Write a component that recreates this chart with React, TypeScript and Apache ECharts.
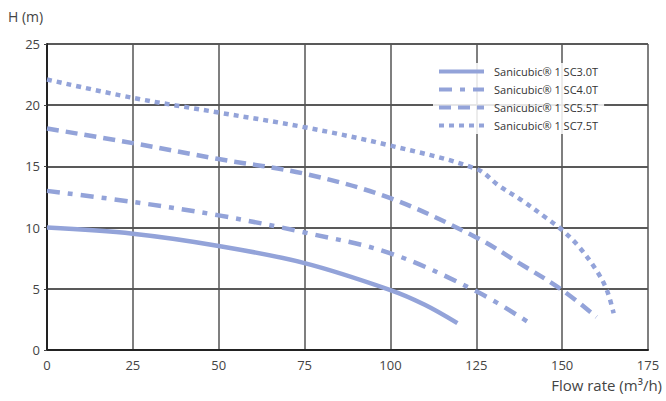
import React, { useEffect, useRef } from "react";
import * as echarts from "echarts";

const xTicks = [0, 25, 50, 75, 100, 125, 150, 175];
const yTicks = [0, 5, 10, 15, 20, 25];

const seriesNames = [
  "Sanicubic® 1 SC3.0T",
  "Sanicubic® 1 SC4.0T",
  "Sanicubic® 1 SC5.5T",
  "Sanicubic® 1 SC7.5T",
];

const sc30Flow = [0, 25, 50, 75, 100, 110, 119.5];
const sc30Head = [10, 9.5, 8.5, 7.1, 4.9, 3.7, 2.2];

const sc40Flow = [0, 25, 50, 75, 100, 125, 140];
const sc40Head = [13, 12.1, 11, 9.6, 7.9, 4.8, 2.3];

const sc55Flow = [0, 25, 50, 75, 100, 125, 137.5, 150, 160];
const sc55Head = [18.1, 16.9, 15.6, 14.4, 12.4, 9.2, 7.1, 4.9, 2.7];

const sc75Flow = [0, 25, 50, 75, 100, 125, 131.7, 138.4, 145.3, 150, 155, 160, 163, 165];
const sc75Head = [22.1, 20.6, 19.4, 18.2, 16.7, 14.8, 13.4, 12.2, 10.8, 9.8, 8.4, 6.5, 4.9, 3.0];

const pair = (xs: number[], ys: number[]) => xs.map((x, i) => [x, ys[i]]);

export default function App() {
  const ref = useRef<HTMLDivElement>(null);
  useEffect(() => {
    if (!ref.current) return;
    const chart = echarts.init(ref.current, null, { renderer: "svg" });
    const color = "#93a3d9";
    const font = "Open Sans";
    const mk = (name: string, data: number[][], type: any) => ({
      name,
      type: "line",
      data,
      smooth: 0.35,
      showSymbol: false,
      symbol: "none",
      lineStyle: { color, width: 4.5, type, cap: "butt" },
      itemStyle: { color },
    });
    chart.setOption({
      animation: false,
      backgroundColor: "#ffffff",
      textStyle: { fontFamily: font },
      grid: { left: 47, right: 18, top: 44, bottom: 51, containLabel: false },
      legend: {
        orient: "vertical",
        left: 433,
        top: 63,
        padding: [3, 6, 3, 4],
        itemGap: 7,
        itemWidth: 45,
        itemHeight: 10,
        backgroundColor: "rgba(255,255,255,0.85)",
        itemStyle: { opacity: 0 },
        lineStyle: { width: 4 },
        textStyle: { color: "#333", fontSize: 11, fontFamily: font, padding: [0, 0, 0, 5] },
        data: seriesNames,
      },
      xAxis: {
        type: "value",
        min: xTicks[0],
        max: xTicks[xTicks.length - 1],
        interval: 25,
        axisLine: { show: true, lineStyle: { color: "#222", width: 2 } },
        axisTick: { show: false },
        axisLabel: {
          color: "#444",
          fontSize: 13,
          margin: 8,
          customValues: xTicks,
        },
        splitLine: { show: true, lineStyle: { color: "#555", width: 1.5 } },
      },
      yAxis: {
        type: "value",
        min: yTicks[0],
        max: yTicks[yTicks.length - 1],
        interval: 5,
        axisLine: { show: true, lineStyle: { color: "#222", width: 2 } },
        axisTick: { show: true, length: 3, lineStyle: { color: "#444" } },
        axisLabel: { color: "#444", fontSize: 13, margin: 7 },
        splitLine: { show: true, lineStyle: { color: "#222", width: 1.6 } },
      },
      graphic: [
        {
          type: "text",
          left: 8,
          top: 9,
          style: { text: "H (m)", fontSize: 14, fill: "#444", fontFamily: font },
        },
        {
          type: "text",
          right: 4,
          top: 377,
          style: { text: "Flow rate (m³/h)", fontSize: 15, fill: "#444", fontFamily: font },
        },
      ],
      series: [
        mk(seriesNames[0], pair(sc30Flow, sc30Head), "solid"),
        mk(seriesNames[1], pair(sc40Flow, sc40Head), [13, 8, 5, 8]),
        mk(seriesNames[2], pair(sc55Flow, sc55Head), [12, 7]),
        mk(seriesNames[3], pair(sc75Flow, sc75Head), [5, 5]),
      ],
    });
    return () => chart.dispose();
  }, []);
  return (
    <div
      ref={ref}
      style={{ position: "fixed", left: 0, top: 0, width: 666, height: 401, background: "#fff" }}
    />
  );
}
